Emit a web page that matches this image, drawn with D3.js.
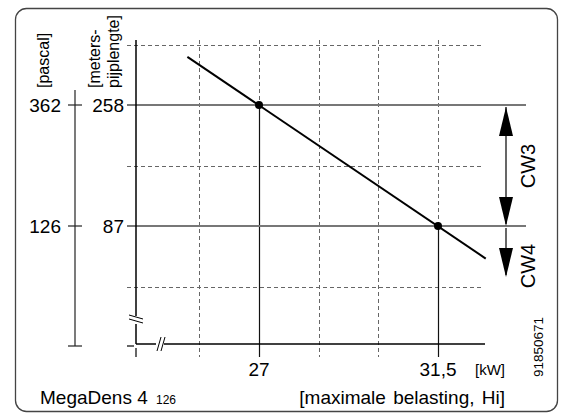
<!DOCTYPE html>
<html><head><meta charset="utf-8">
<script src="https://cdn.jsdelivr.net/npm/d3@7"></script>
<style>
html,body{margin:0;padding:0;background:#fff;}
svg{display:block;font-family:"Liberation Sans",Arial,sans-serif;}
</style></head>
<body>
<script>
// ---- data ----
const xTickValues = [27, 31.5];
const xTickLabels = ["27", "31,5"];
const xGridDashed = [25.5, 28.5, 30];
const yTickValues = [258, 87];           // meters pijplengte
const yTickLabels = ["258", "87"];
const pascalTickValues = [362, 126];
const pascalTickLabels = ["362", "126"];
const yGridDashed = [343.5, 172.5, 1.5];
const lineKW = [25.2, 32.7];
const lineMeters = [326, 41];
const pointKW = [27, 31.5];
const pointMeters = [258, 87];
const ranges = [{name: "CW3", from: 258, to: 87, arrows: "both"}, {name: "CW4", from: 87, to: 15, arrows: "end"}];

const W = 561, H = 413;
const svg = d3.select("body").append("svg").attr("width", W).attr("height", H);

// scales
const x = d3.scaleLinear().domain([27, 31.5]).range([259, 438]);
const y = d3.scaleLinear().domain([258, 87]).range([105, 226]);
const yp = d3.scaleLinear().domain([362, 126]).range([105, 226]);

const axisX0 = 136, axisY0 = 344, plotTop = 40, plotRight = 485;
const gridLeft = 127, gridRight = 483;

// frame
svg.append("rect").attr("x", 15.5).attr("y", 8.5).attr("width", 542).attr("height", 403)
  .attr("rx", 11).attr("fill", "none").attr("stroke", "#444").attr("stroke-width", 1.3);

// dashed grid
const g = svg.append("g");
g.selectAll(".hg").data(yGridDashed).join("line")
  .attr("x1", gridLeft).attr("x2", gridRight)
  .attr("y1", d => Math.round(y(d)) + 0.5).attr("y2", d => Math.round(y(d)) + 0.5)
  .attr("stroke", "#666").attr("stroke-width", 1).attr("stroke-dasharray", "4,3");
g.selectAll(".vg").data(xGridDashed).join("line")
  .attr("x1", d => Math.round(x(d)) + 0.5).attr("x2", d => Math.round(x(d)) + 0.5)
  .attr("y1", plotTop).attr("y2", 357)
  .attr("stroke", "#666").attr("stroke-width", 1).attr("stroke-dasharray", "4,3");

// vertical lines at data ticks: dashed above point, solid below
xTickValues.forEach((v, i) => {
  const px = Math.round(x(v)) + 0.5;
  g.append("line").attr("x1", px).attr("x2", px).attr("y1", plotTop).attr("y2", y(pointMeters[i]))
    .attr("stroke", "#666").attr("stroke-width", 1).attr("stroke-dasharray", "4,3");
  g.append("line").attr("x1", px).attr("x2", px).attr("y1", y(pointMeters[i])).attr("y2", 357)
    .attr("stroke", "#111").attr("stroke-width", 1.2);
});

// solid horizontal lines at y ticks
g.selectAll(".hs").data(yTickValues).join("line")
  .attr("x1", gridLeft).attr("x2", 526)
  .attr("y1", d => y(d)).attr("y2", d => y(d))
  .attr("stroke", "#777").attr("stroke-width", 2);

// axes
svg.append("line").attr("x1", axisX0).attr("x2", axisX0).attr("y1", plotTop).attr("y2", axisY0)
  .attr("stroke", "#000").attr("stroke-width", 1.5);
svg.append("line").attr("x1", axisX0).attr("x2", plotRight).attr("y1", axisY0).attr("y2", axisY0)
  .attr("stroke", "#000").attr("stroke-width", 1.5);
// origin ticks
svg.append("line").attr("x1", 127).attr("x2", 134).attr("y1", 346).attr("y2", 346).attr("stroke", "#000").attr("stroke-width", 1.2);
svg.append("line").attr("x1", 136).attr("x2", 136).attr("y1", 348).attr("y2", 357).attr("stroke", "#000").attr("stroke-width", 1.2);
// axis breaks
const brk = (cx, cy, vertical) => {
  [-2, 2].forEach(o => {
    if (vertical) {
      svg.append("line").attr("x1", cx - 7).attr("x2", cx + 7).attr("y1", cy + o - 3).attr("y2", cy + o + 1)
        .attr("stroke", "#000").attr("stroke-width", 1);
    } else {
      svg.append("line").attr("x1", cx + o - 1).attr("x2", cx + o + 3).attr("y1", cy + 7).attr("y2", cy - 7)
        .attr("stroke", "#000").attr("stroke-width", 1);
    }
  });
};
svg.append("rect").attr("x", 132).attr("y", 316).attr("width", 8).attr("height", 8).attr("fill", "#fff");
brk(axisX0, 320, true);
svg.append("rect").attr("x", 156).attr("y", 340).attr("width", 8).attr("height", 8).attr("fill", "#fff");
brk(160, axisY0, false);

// pascal axis
svg.append("line").attr("x1", 75).attr("x2", 75).attr("y1", 90).attr("y2", 346).attr("stroke", "#222").attr("stroke-width", 1.2);
svg.selectAll(".pt").data(pascalTickValues).join("line")
  .attr("x1", 68).attr("x2", 82).attr("y1", d => yp(d)).attr("y2", d => yp(d)).attr("stroke", "#222").attr("stroke-width", 1.2);
svg.append("line").attr("x1", 68).attr("x2", 82).attr("y1", 346).attr("y2", 346).attr("stroke", "#222").attr("stroke-width", 1.2);

// tick labels
svg.selectAll(".pl").data(pascalTickValues).join("text")
  .attr("x", 61).attr("y", d => yp(d) + 7).attr("text-anchor", "end")
  .attr("font-size", 19).text((d, i) => pascalTickLabels[i]);
svg.selectAll(".yl").data(yTickValues).join("text")
  .attr("x", 124).attr("y", d => y(d) + 7).attr("text-anchor", "end")
  .attr("font-size", 19).text((d, i) => yTickLabels[i]);
svg.selectAll(".xl").data(xTickValues).join("text")
  .attr("x", d => x(d)).attr("y", 376).attr("text-anchor", "middle")
  .attr("font-size", 19).text((d, i) => xTickLabels[i]);
svg.append("text").attr("x", 490).attr("y", 375).attr("text-anchor", "middle").attr("font-size", 15).text("[kW]");

// unit labels (rotated)
svg.append("text").attr("transform", "translate(49,88) rotate(-90)").attr("font-size", 16).text("[pascal]");
svg.append("text").attr("transform", "translate(100,88) rotate(-90)").attr("font-size", 16).text("[meters-");
svg.append("text").attr("transform", "translate(119,88) rotate(-90)").attr("font-size", 16).text("pijplengte]");

// curve
svg.append("path")
  .attr("d", d3.line().x(d => x(d[0])).y(d => y(d[1]))(lineKW.map((k, i) => [k, lineMeters[i]])))
  .attr("fill", "none").attr("stroke", "#000").attr("stroke-width", 2);
svg.selectAll(".pt2").data(pointKW).join("circle")
  .attr("cx", d => x(d)).attr("cy", (d, i) => y(pointMeters[i])).attr("r", 4).attr("fill", "#000");

// range arrows
const ax = 506;
const head = (tipY, dir) => { // dir: -1 points up, 1 points down
  const base = tipY - dir * 29;
  svg.append("path").attr("d", `M${ax},${tipY} L${ax - 7},${base} L${ax + 7},${base} Z`).attr("fill", "#000");
};
ranges.forEach(r => {
  const y1 = y(r.from), y2 = y(r.to);
  svg.append("line").attr("x1", ax).attr("x2", ax).attr("y1", y1 + 2).attr("y2", y2 - 2)
    .attr("stroke", "#000").attr("stroke-width", 1.2);
  if (r.arrows === "both") head(y1 + 2, -1);
  head(y2, 1);
});
svg.append("text").attr("transform", "translate(535,166) rotate(-90)").attr("text-anchor", "middle").attr("font-size", 20).text("CW3");
svg.append("text").attr("transform", "translate(535,266) rotate(-90)").attr("text-anchor", "middle").attr("font-size", 20).text("CW4");
svg.append("text").attr("transform", "translate(543,347) rotate(-90)").attr("text-anchor", "middle").attr("font-size", 13.5).text("91850671");

// footer
const foot = svg.append("text").attr("x", 40).attr("y", 404).attr("font-size", 19);
foot.append("tspan").text("MegaDens 4 ");
foot.append("tspan").attr("font-size", 12).attr("dx", 3).text("126");
svg.append("text").attr("x", 505).attr("y", 404).attr("text-anchor", "end").attr("font-size", 19)
  .attr("word-spacing", 2).text("[maximale belasting, Hi]");
</script>
</body></html>
